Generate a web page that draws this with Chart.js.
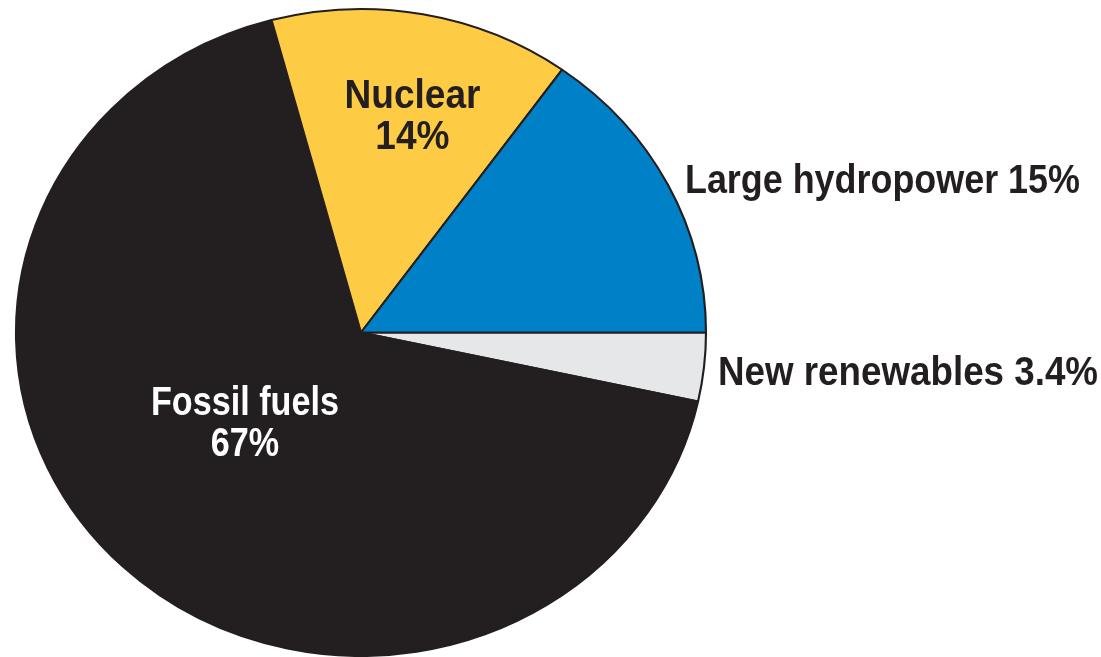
<!DOCTYPE html>
<html>
<head>
<meta charset="utf-8">
<script src="https://cdn.jsdelivr.net/npm/chart.js@4/dist/chart.umd.min.js"></script>
<style>
    html, body { margin: 0; padding: 0; background: #ffffff; }
    #wrap { width: 1101px; height: 657px; }
</style>
</head>
<body>
<div id="wrap"><canvas id="pieChart"></canvas></div>
<script>

// DATA

const categories = ["New renewables", "Fossil fuels", "Nuclear", "Large hydropower"];
const shares = [3.4, 67, 14, 15];
const sliceColors = ["#e6e7e8", "#231f20", "#fecb45", "#0080c6"];


// LABEL LAYOUT (inside = centred on the slice, else left-aligned beside the rim)

const labelLayout = [
    { inside: false, dx: 14, dy: 3, width: 380, color: "#231f20", weight: "bold" },
    { inside: true, k: 0.42, dx: -16, dy: -10, width: 188, color: "#ffffff", weight: "bold" },
    { inside: true, k: 0.687, dx: 9, dy: 0, width: 136, color: "#231f20", weight: "bold" },
    { inside: false, dx: 17, dy: -7, width: 395, color: "#231f20", weight: "bold" }
];

const FONT_FAMILY = '"Liberation Sans", Arial, sans-serif';
const FONT_SIZE = 41;
const CAP = 30;
const LINE_GAP = 41;
const STRETCH_X = 345 / 323.5;   // the original pie is a little wider than tall


function labelLines(i) {
    if (labelLayout[i].inside) return [categories[i], shares[i] + "%"];
    return [categories[i] + " " + shares[i] + "%"];
}


// PLUGIN: stretch the pie + draw labels

const pieDecor = {

    id: "pieDecor",

    beforeDatasetsDraw(chart) {
        const ctx = chart.ctx;
        const arc = chart.getDatasetMeta(0).data[0];
        ctx.save();
        ctx.translate(arc.x, 0);
        ctx.scale(STRETCH_X, 1);
        ctx.translate(-arc.x, 0);
    },

    afterDatasetsDraw(chart) {

        const ctx = chart.ctx;
        ctx.restore();

        const arcs = chart.getDatasetMeta(0).data;

        arcs.forEach((arc, i) => {

            const lay = labelLayout[i];
            const mid = (arc.startAngle + arc.endAngle) / 2;
            const k = lay.inside ? lay.k : 1;

            const ax = arc.x + Math.cos(mid) * arc.outerRadius * k * STRETCH_X + lay.dx;
            const ay = arc.y + Math.sin(mid) * arc.outerRadius * k + lay.dy;

            const lines = labelLines(i);

            ctx.save();
            ctx.font = `${lay.weight} ${FONT_SIZE}px ${FONT_FAMILY}`;
            ctx.fillStyle = lay.color;
            ctx.textBaseline = "alphabetic";

            const natural = ctx.measureText(lines[0]).width;
            const sx = lay.width / natural;

            const blockH = CAP + (lines.length - 1) * LINE_GAP;
            let base = ay - blockH / 2 + CAP;

            lines.forEach(line => {
                ctx.save();
                ctx.translate(ax, base);
                ctx.scale(sx, 1);
                ctx.textAlign = lay.inside ? "center" : "left";
                ctx.fillText(line, 0, 0);
                ctx.restore();
                base += LINE_GAP;
            });

            ctx.restore();

        });

    }

};


// CHART

const ctx = document.getElementById("pieChart").getContext("2d");

new Chart(ctx, {

    type: "pie",

    data: {
        labels: categories,
        datasets: [{
            data: shares,
            backgroundColor: sliceColors,
            borderColor: "#231f20",
            borderWidth: 2
        }]
    },

    options: {
        responsive: true,
        maintainAspectRatio: false,
        animation: false,
        events: [],
        rotation: 90,
        layout: { padding: { left: 36, right: 415, top: 8, bottom: 0 } },
        plugins: {
            legend: { display: false },
            tooltip: { enabled: false }
        }
    },

    plugins: [pieDecor]

});

</script>
</body>
</html>
